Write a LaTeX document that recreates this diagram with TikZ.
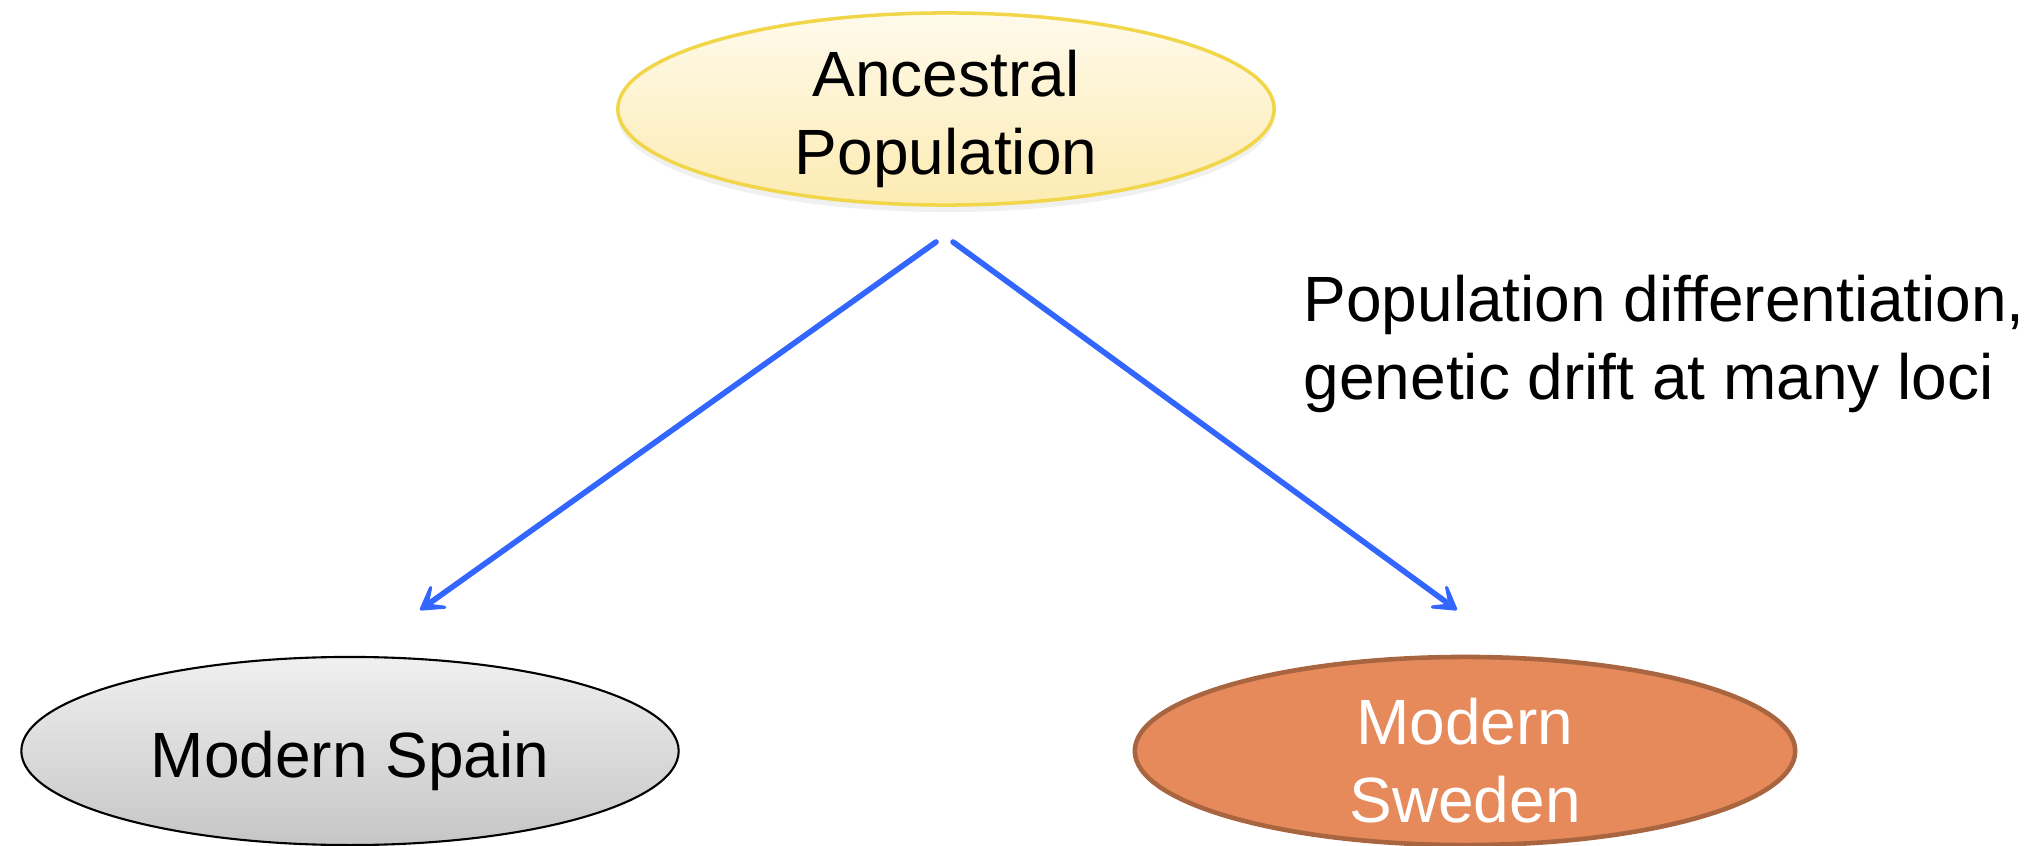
\documentclass[tikz,border=0pt]{standalone}
\usepackage{fontspec}
\setmainfont{Liberation Sans}
\usetikzlibrary{shapes.geometric,arrows.meta,shadows}
\definecolor{arrowblue}{HTML}{3366FF}
\definecolor{ancfilltop}{HTML}{FFFAEB}
\definecolor{ancfillbot}{HTML}{FCEBB2}
\definecolor{ancborder}{HTML}{F2D64A}
\definecolor{swefill}{HTML}{E68A5C}
\definecolor{sweborder}{HTML}{A8653F}
\tikzset{
  txt/.style={font=\fontsize{18.2}{22.2}\selectfont, align=center},
  popnode/.style={ellipse, inner sep=0pt},
  inner/.style={txt, inner sep=0pt, yshift=-0.1cm},
  arr/.style={draw=arrowblue, line width=1.6pt, line cap=round,
    -{Stealth[length=10pt, width=12pt, inset=6.5pt, round]}},
}
\begin{document}
\begin{tikzpicture}[x=0.01cm,y=-0.01cm]
\useasboundingbox (0,0) rectangle (2039,846);
\node[popnode, minimum width=6.56cm, minimum height=1.92cm,
  top color=ancfilltop, bottom color=ancfillbot, draw=ancborder, line width=1pt,
  drop shadow={shadow xshift=0pt, shadow yshift=-2pt, opacity=0.12},
  label={[inner]center:{Ancestral\\Population}}]
  (anc) at (946,109) {};
\node[popnode, minimum width=6.57cm, minimum height=1.88cm,
  top color=gray!12, bottom color=gray!45, draw=black, line width=0.6pt,
  label={[inner]center:{Modern Spain}}]
  (spain) at (350,751) {};
\node[popnode, minimum width=6.6cm, minimum height=1.88cm,
  fill=swefill, draw=sweborder, line width=1.3pt,
  label={[inner, text=white]center:{Modern\\Sweden}}]
  (sweden) at (1465,751) {};
\node[txt, align=left, anchor=west, inner sep=0pt] (lbl) at (1303,344)
  {Population differentiation,\\genetic drift at many loci};
\coordinate (s1) at (936,242);
\coordinate (t1) at (420,610);
\coordinate (s2) at (953,242);
\coordinate (t2) at (1457,610);
\draw[arr] (s1) -- (t1);
\draw[arr] (s2) -- (t2);
\end{tikzpicture}
\end{document}
